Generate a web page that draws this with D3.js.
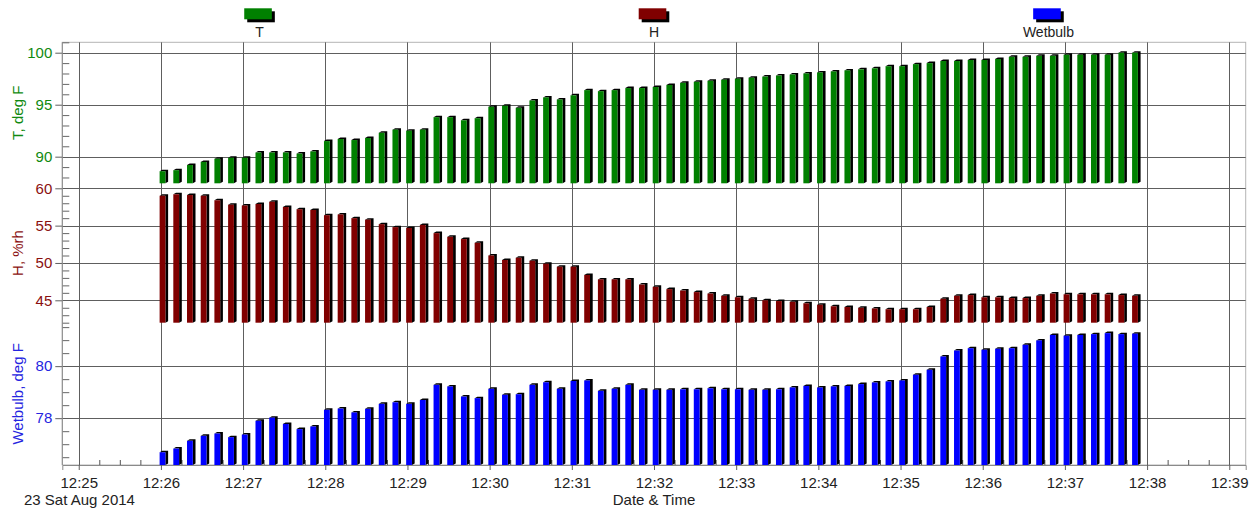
<!DOCTYPE html>
<html>
<head>
<meta charset="utf-8">
<script src="https://cdn.jsdelivr.net/npm/d3@7"></script>
<style>
  html, body { margin: 0; padding: 0; background: #fff; }
  svg { display: block; font-family: "Liberation Sans", Arial, sans-serif; }
</style>
</head>
<body>
<svg id="chart" width="1257" height="510"></svg>
<script>
// Logger readings, one every 10 seconds
const logDate = "2014-08-23";
const times = [
  "12:26:00","12:26:10","12:26:20","12:26:30","12:26:40","12:26:50",
  "12:27:00","12:27:10","12:27:20","12:27:30","12:27:40","12:27:50",
  "12:28:00","12:28:10","12:28:20","12:28:30","12:28:40","12:28:50",
  "12:29:00","12:29:10","12:29:20","12:29:30","12:29:40","12:29:50",
  "12:30:00","12:30:10","12:30:20","12:30:30","12:30:40","12:30:50",
  "12:31:00","12:31:10","12:31:20","12:31:30","12:31:40","12:31:50",
  "12:32:00","12:32:10","12:32:20","12:32:30","12:32:40","12:32:50",
  "12:33:00","12:33:10","12:33:20","12:33:30","12:33:40","12:33:50",
  "12:34:00","12:34:10","12:34:20","12:34:30","12:34:40","12:34:50",
  "12:35:00","12:35:10","12:35:20","12:35:30","12:35:40","12:35:50",
  "12:36:00","12:36:10","12:36:20","12:36:30","12:36:40","12:36:50",
  "12:37:00","12:37:10","12:37:20","12:37:30","12:37:40","12:37:50"
];

const tempF = [
  88.6, 88.7, 89.2, 89.5, 89.8, 89.9, 89.9, 90.4, 90.4, 90.4, 90.3, 90.5,
  91.5, 91.7, 91.6, 91.8, 92.3, 92.6, 92.5, 92.6, 93.8, 93.8, 93.5, 93.7,
  94.8, 94.9, 94.7, 95.4, 95.7, 95.5, 95.9, 96.4, 96.3, 96.4, 96.6, 96.6,
  96.7, 96.9, 97.1, 97.2, 97.3, 97.4, 97.5, 97.6, 97.7, 97.8, 97.9, 98.0,
  98.1, 98.2, 98.3, 98.4, 98.5, 98.7, 98.7, 98.9, 99.0, 99.2, 99.2, 99.3,
  99.3, 99.4, 99.6, 99.6, 99.7, 99.7, 99.8, 99.8, 99.8, 99.8, 100.0, 100.0
];

const humidity = [
  59.0, 59.2, 59.1, 59.0, 58.4, 57.8, 57.7, 57.9, 58.2, 57.5, 57.2, 57.1,
  56.4, 56.5, 56.0, 55.8, 55.2, 54.8, 54.7, 55.1, 54.0, 53.5, 53.2, 52.7,
  51.0, 50.4, 50.7, 50.3, 49.9, 49.5, 49.5, 48.4, 47.8, 47.8, 47.8, 47.1,
  46.8, 46.5, 46.3, 46.1, 45.9, 45.6, 45.4, 45.2, 45.0, 44.9, 44.8, 44.6,
  44.4, 44.2, 44.1, 44.0, 43.9, 43.8, 43.8, 43.8, 44.1, 45.2, 45.6, 45.7,
  45.4, 45.4, 45.3, 45.3, 45.6, 45.9, 45.8, 45.8, 45.8, 45.8, 45.7, 45.6
];

const wetbulbF = [
  76.69, 76.83, 77.13, 77.32, 77.41, 77.27, 77.37, 77.90, 78.02, 77.78, 77.58, 77.68,
  78.32, 78.37, 78.22, 78.36, 78.55, 78.61, 78.55, 78.70, 79.28, 79.22, 78.83, 78.77,
  79.13, 78.90, 78.92, 79.28, 79.38, 79.13, 79.43, 79.45, 79.05, 79.13, 79.28, 79.09,
  79.09, 79.09, 79.11, 79.11, 79.15, 79.11, 79.11, 79.09, 79.09, 79.11, 79.18, 79.24,
  79.18, 79.22, 79.24, 79.31, 79.37, 79.41, 79.45, 79.67, 79.86, 80.37, 80.60, 80.69,
  80.63, 80.67, 80.69, 80.82, 80.99, 81.20, 81.17, 81.20, 81.23, 81.27, 81.23, 81.25
];

const seriesNames = ["T", "H", "Wetbulb"];
const axisTitles = ["T, deg F", "H, %rh", "Wetbulb, deg F"];
const tDomain = [87.44, 101];
const hDomain = [42, 60.67];
const wDomain = [76.2, 81.67];
const tMajorTicks = [90, 95, 100];
const hMajorTicks = [45, 50, 55, 60];
const wMajorTicks = [78, 80];
const timeDomain = ["2014-08-23 12:24:48", "2014-08-23 12:39:12"];
const dateLabel = "23 Sat Aug 2014";
const xTitle = "Date & Time";

// ---- layout ----
const svg = d3.select("#chart");
const plotL = 62.3, plotR = 1245.7, plotT = 42.3, plotB = 465;
const panelEdges = [plotT, 183.3, 322.7, plotB];
const gridColor = "#5e5e5e";
const frameColor = "#b4b4b4";
const fontSize = 15;

const parse = d3.timeParse("%Y-%m-%d %H:%M:%S");
const stamps = times.map(t => parse(logDate + " " + t));

const x = d3.scaleTime()
  .domain(timeDomain.map(parse))
  .range([plotL, plotR]);

const panels = [
  { name: seriesNames[0], title: axisTitles[0], values: tempF, domain: tDomain,
    major: tMajorTicks, minorStep: 1, fill: "#008000", text: "#108a10" },
  { name: seriesNames[1], title: axisTitles[1], values: humidity, domain: hDomain,
    major: hMajorTicks, minorStep: 1, fill: "#800000", text: "#8a1010" },
  { name: seriesNames[2], title: axisTitles[2], values: wetbulbF, domain: wDomain,
    major: wMajorTicks, minorStep: 0.5, fill: "#0000ff", text: "#2525e0" }
];
panels.forEach((p, k) => {
  p.y = d3.scaleLinear().domain(p.domain).range([panelEdges[k + 1], panelEdges[k]]);
});

// ---- frame ----
svg.append("rect")
  .attr("x", plotL).attr("y", plotT)
  .attr("width", plotR - plotL).attr("height", plotB - plotT)
  .attr("fill", "none").attr("stroke", frameColor).attr("stroke-width", 1);

// vertical grid at each minute
const minuteTicks = d3.timeMinute.every(1).range(x.domain()[0], x.domain()[1]);
svg.append("g").selectAll("line")
  .data(minuteTicks).join("line")
  .attr("x1", d => Math.round(x(d)) + 0.5).attr("x2", d => Math.round(x(d)) + 0.5)
  .attr("y1", plotT).attr("y2", plotB)
  .attr("stroke", gridColor).attr("stroke-width", 1);

// horizontal grid at each major tick
panels.forEach(p => {
  svg.append("g").selectAll("line")
    .data(p.major).join("line")
    .attr("x1", plotL).attr("x2", plotR)
    .attr("y1", d => Math.round(p.y(d)) + 0.5).attr("y2", d => Math.round(p.y(d)) + 0.5)
    .attr("stroke", gridColor).attr("stroke-width", 1);
});

// ---- y axes ----
panels.forEach((p, k) => {
  const lo = Math.ceil(p.domain[0] / p.minorStep) * p.minorStep;
  const minor = d3.range(lo, p.domain[1] + 1e-9, p.minorStep)
    .filter(v => !p.major.some(m => Math.abs(m - v) < 1e-6));

  const gMajor = svg.append("g")
    .attr("transform", `translate(${plotL},0)`)
    .call(d3.axisLeft(p.y).tickValues(p.major).tickSize(7).tickPadding(3)
      .tickFormat(d3.format("d")));
  gMajor.select(".domain").remove();
  gMajor.selectAll(".tick line").attr("stroke", gridColor);
  gMajor.selectAll(".tick text")
    .attr("fill", p.text).attr("font-size", fontSize)
    .attr("font-family", "Liberation Sans, Arial, sans-serif");

  const gMinor = svg.append("g")
    .attr("transform", `translate(${plotL},0)`)
    .call(d3.axisRight(p.y).tickValues(minor).tickSize(7).tickFormat(""));
  gMinor.select(".domain").remove();
  gMinor.selectAll(".tick line").attr("stroke", "#666");

  const cy = (panelEdges[k] + panelEdges[k + 1]) / 2;
  svg.append("text")
    .attr("transform", `translate(23,${cy}) rotate(-90)`)
    .attr("text-anchor", "middle")
    .attr("fill", p.text).attr("font-size", fontSize)
    .text(p.title);
});

// left axis line
svg.append("line")
  .attr("x1", plotL).attr("x2", plotL).attr("y1", plotT).attr("y2", plotB)
  .attr("stroke", "#8a8a8a");

// ---- x axis ----
const gx = svg.append("g")
  .attr("transform", `translate(0,${plotB})`)
  .call(d3.axisBottom(x).tickValues(minuteTicks).tickSize(5).tickPadding(7)
    .tickFormat(d3.timeFormat("%H:%M")));
gx.select(".domain").attr("stroke", "#8a8a8a");
gx.selectAll(".tick line").attr("stroke", gridColor);
gx.selectAll(".tick text").attr("fill", "#222").attr("font-size", fontSize)
  .attr("font-family", "Liberation Sans, Arial, sans-serif");

const quarterTicks = d3.timeSecond.every(15).range(x.domain()[0], x.domain()[1])
  .filter(d => d.getSeconds() !== 0);
const gxMinor = svg.append("g")
  .attr("transform", `translate(0,${plotB})`)
  .call(d3.axisTop(x).tickValues(quarterTicks).tickSize(5).tickFormat(""));
gxMinor.select(".domain").remove();
gxMinor.selectAll(".tick line").attr("stroke", "#555");

svg.append("text")
  .attr("x", 24).attr("y", 505)
  .attr("fill", "#222").attr("font-size", fontSize)
  .text(dateLabel);
svg.append("text")
  .attr("x", 654).attr("y", 505)
  .attr("text-anchor", "middle")
  .attr("fill", "#222").attr("font-size", fontSize)
  .text(xTitle);

// ---- 3D bars ----
const barW = 5.8, depthX = 2.7, depthY = 1.5, barShift = 1.3;
panels.forEach(p => {
  const base = p.y(p.domain[0]);
  const g = svg.append("g");
  const data = p.values.map((v, i) => ({ t: stamps[i], v }));
  // depth faces (top and right side)
  g.selectAll("path.depth")
    .data(data).join("path")
    .attr("class", "depth")
    .attr("d", d => {
      const x0 = x(d.t) - barShift, x1 = x0 + barW, yt = p.y(d.v);
      return `M${x0},${yt} L${x0 + depthX},${yt - depthY} L${x1 + depthX},${yt - depthY} ` +
             `L${x1 + depthX},${base - depthY} L${x1},${base} L${x1},${yt} Z`;
    })
    .attr("fill", "#000");
  // front faces
  g.selectAll("rect.front")
    .data(data).join("rect")
    .attr("class", "front")
    .attr("x", d => x(d.t) - barShift)
    .attr("y", d => p.y(d.v))
    .attr("width", barW)
    .attr("height", d => base - p.y(d.v))
    .attr("fill", p.fill);
});

// ---- legend ----
const slot = (plotR - plotL) / 3;
panels.forEach((p, k) => {
  const cx = plotL + slot * (k + 0.5);
  const bw = 27.6, bh = 11;
  const bx = cx - bw / 2 - 1.5, by = 8.3;
  svg.append("rect")
    .attr("x", bx + 3).attr("y", by + 3).attr("width", bw).attr("height", bh)
    .attr("fill", "#000");
  svg.append("rect")
    .attr("x", bx).attr("y", by).attr("width", bw).attr("height", bh)
    .attr("fill", p.fill);
  svg.append("text")
    .attr("x", cx).attr("y", 36.5)
    .attr("text-anchor", "middle")
    .attr("fill", "#222").attr("font-size", 14)
    .text(p.name);
});
</script>
</body>
</html>
